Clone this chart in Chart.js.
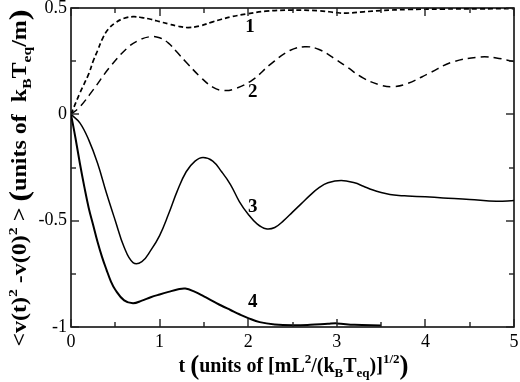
<!DOCTYPE html>
<html>
<head>
<meta charset="utf-8">
<script src="https://cdn.jsdelivr.net/npm/chart.js"></script>
<style>
  body { margin: 0; background: #fff; }
</style>
</head>
<body>
<canvas id="vChart" width="520" height="382"></canvas>

<script>

// time values and curve values
const t1 = [0, 0.1, 0.2, 0.25, 0.3, 0.36, 0.42, 0.5, 0.6, 0.7, 0.8, 0.9, 1.0, 1.1, 1.2, 1.32, 1.45, 1.6, 1.7, 1.8, 1.98, 2.2, 2.47, 2.8, 3.0, 3.11, 3.3, 3.5, 3.8, 4.2, 4.6, 5.0];
const v1 = [0, 0.10, 0.19, 0.25, 0.30, 0.36, 0.40, 0.43, 0.452, 0.459, 0.455, 0.447, 0.436, 0.425, 0.415, 0.408, 0.415, 0.435, 0.447, 0.458, 0.472, 0.485, 0.49, 0.487, 0.478, 0.476, 0.482, 0.488, 0.493, 0.495, 0.496, 0.497];

const t2 = [0, 0.1, 0.25, 0.44, 0.63, 0.75, 0.89, 1.0, 1.1, 1.19, 1.3, 1.46, 1.6, 1.72, 1.85, 2.05, 2.25, 2.47, 2.64, 2.8, 3.0, 3.11, 3.3, 3.5, 3.64, 3.8, 4.05, 4.3, 4.62, 4.8, 5.0];
const v2 = [0, 0.035, 0.115, 0.223, 0.31, 0.345, 0.365, 0.36, 0.335, 0.295, 0.245, 0.176, 0.128, 0.112, 0.12, 0.162, 0.235, 0.30, 0.318, 0.305, 0.255, 0.224, 0.17, 0.137, 0.13, 0.145, 0.195, 0.245, 0.27, 0.265, 0.248];

const t3 = [0, 0.1, 0.2, 0.3, 0.4, 0.5, 0.6, 0.7, 0.8, 0.9, 1.0, 1.1, 1.2, 1.3, 1.4, 1.49, 1.6, 1.7, 1.8, 1.9, 2.0, 2.1, 2.2, 2.3, 2.4, 2.5, 2.6, 2.7, 2.8, 2.9, 3.05, 3.2, 3.3, 3.4, 3.5, 3.6, 3.7, 3.8, 4.0, 4.2, 4.5, 4.8, 5.0];
const v3 = [0, -0.04, -0.12, -0.23, -0.37, -0.50, -0.625, -0.697, -0.693, -0.64, -0.57, -0.47, -0.36, -0.27, -0.22, -0.203, -0.22, -0.27, -0.33, -0.41, -0.47, -0.515, -0.538, -0.532, -0.50, -0.46, -0.42, -0.38, -0.345, -0.322, -0.311, -0.322, -0.338, -0.355, -0.368, -0.377, -0.382, -0.384, -0.388, -0.393, -0.40, -0.409, -0.405];

const t4 = [0, 0.05, 0.1, 0.15, 0.2, 0.25, 0.3, 0.35, 0.4, 0.45, 0.5, 0.6, 0.7, 0.8, 0.9, 1.0, 1.1, 1.2, 1.29, 1.4, 1.5, 1.6, 1.7, 1.8, 1.9, 2.0, 2.13, 2.3, 2.5, 2.7, 2.9, 3.0, 3.2, 3.5];
const v4 = [0, -0.11, -0.23, -0.34, -0.44, -0.52, -0.60, -0.67, -0.73, -0.785, -0.825, -0.875, -0.888, -0.876, -0.86, -0.847, -0.835, -0.824, -0.819, -0.835, -0.856, -0.878, -0.90, -0.92, -0.94, -0.958, -0.977, -0.988, -0.992, -0.99, -0.985, -0.983, -0.99, -0.993];

const xTicks = [0, 1, 2, 3, 4, 5];
const yTicks = [-1, -0.5, 0, 0.5];

// curve numbers and where they sit (data coordinates)
const curveNames = ['1', '2', '3', '4'];
const nameX = [2.02, 2.05, 2.05, 2.05];
const nameY = [0.41, 0.105, -0.435, -0.885];

const SERIF = '"Liberation Serif", "Times New Roman", serif';

function pts(xs, ys) {
  return xs.map((x, i) => ({ x: x, y: ys[i] }));
}

function line(xs, ys, dash, width) {
  return {
    data: pts(xs, ys),
    borderColor: '#000',
    borderWidth: width,
    borderDash: dash,
    pointRadius: 0,
    fill: false,
    tension: 0.4
  };
}

// draws a string made of pieces with sub/superscripts, centred on (0,0)
function drawRich(ctx, segs) {
  let total = 0;
  segs.forEach(s => {
    ctx.font = 'bold ' + s[1] + 'px ' + SERIF;
    s.w = ctx.measureText(s[0]).width;
    total += s.w;
  });
  let x = -total / 2;
  ctx.textAlign = 'left';
  ctx.textBaseline = 'alphabetic';
  segs.forEach(s => {
    ctx.font = 'bold ' + s[1] + 'px ' + SERIF;
    ctx.fillText(s[0], x, s[2]);
    x += s.w;
  });
}

const xTitle = [
  ['t ', 20, 0], ['(', 27, 2], ['units of [mL', 20, 0], ['2', 13, -9], ['/(k', 20, 0],
  ['B', 13, 5], ['T', 20, 0], ['eq', 13, 5], [')]', 20, 0], ['1/2', 13, -9], [')', 27, 2]
];
const yTitle = [
  ['<v(t)', 20, 0], ['2', 13, -9], [' -v(0)', 20, 0], ['2', 13, -9], [' > ', 20, 0],
  ['(', 27, 2], ['units of  k', 20, 0], ['B', 13, 5], ['T', 20, 0], ['eq', 13, 5],
  ['/m', 20, 0], [')', 27, 2]
];

const framePlugin = {
  id: 'frame',
  afterDraw(chart) {
    const ctx = chart.ctx;
    const a = chart.chartArea;
    const xs = chart.scales.x, ys = chart.scales.y;
    ctx.save();
    ctx.setLineDash([]);
    ctx.strokeStyle = '#000';
    ctx.lineWidth = 1.5;
    ctx.strokeRect(a.left, a.top, a.right - a.left, a.bottom - a.top);

    // inward tick marks on all four sides
    ctx.fillStyle = '#222';
    for (let i = 0; i <= 10; i++) {
      const p = Math.round(xs.getPixelForValue(i * 0.5));
      const len = i % 2 === 0 ? 8 : 5;
      ctx.fillRect(p - 0.7, a.bottom - len, 1.4, len);
      ctx.fillRect(p - 0.7, a.top, 1.4, len);
    }
    for (let i = 0; i <= 6; i++) {
      const p = Math.round(ys.getPixelForValue(-1 + i * 0.25));
      const len = i % 2 === 0 ? 8 : 5;
      ctx.fillRect(a.left, p - 0.7, len, 1.4);
      ctx.fillRect(a.right - len, p - 0.7, len, 1.4);
    }
    ctx.fillStyle = '#000';

    // curve numbers
    ctx.font = 'bold 19px ' + SERIF;
    ctx.textAlign = 'center';
    ctx.textBaseline = 'middle';
    curveNames.forEach((n, i) => {
      ctx.fillText(n, xs.getPixelForValue(nameX[i]), ys.getPixelForValue(nameY[i]));
    });

    // axis titles
    ctx.save();
    ctx.translate((a.left + a.right) / 2 + 1, 372);
    drawRich(ctx, xTitle);
    ctx.restore();

    ctx.save();
    ctx.translate(26, 178);
    ctx.rotate(-Math.PI / 2);
    ctx.scale(1.2, 1);
    drawRich(ctx, yTitle);
    ctx.restore();

    ctx.restore();
  }
};

new Chart(document.getElementById('vChart'), {
  type: 'line',
  data: {
    datasets: [
      line(t1, v1, [5, 3], 1.7),
      line(t2, v2, [8, 5], 1.5),
      line(t3, v3, [], 1.5),
      line(t4, v4, [], 2)
    ]
  },
  options: {
    responsive: false,
    animation: false,
    layout: { padding: { top: 8, right: 6, left: 0, bottom: 0 } },
    plugins: { legend: { display: false }, tooltip: { enabled: false } },
    scales: {
      x: {
        type: 'linear',
        min: 0, max: 5,
        grid: { display: false, drawTicks: false },
        border: { display: false },
        afterBuildTicks: s => { s.ticks = xTicks.map(v => ({ value: v })); },
        ticks: {
          color: '#000',
          padding: 4,
          font: { family: SERIF, size: 18 },
          callback: v => String(v)
        },
        afterFit: s => { s.height = 55; s.paddingLeft = 0; s.paddingRight = 0; }
      },
      y: {
        min: -1, max: 0.5,
        grid: { display: false, drawTicks: false },
        border: { display: false },
        afterBuildTicks: s => { s.ticks = yTicks.map(v => ({ value: v })); },
        ticks: {
          color: '#000',
          padding: 4,
          font: { family: SERIF, size: 18 },
          callback: v => String(v)
        },
        afterFit: s => { s.width = 71; s.paddingTop = 0; s.paddingBottom = 0; }
      }
    }
  },
  plugins: [framePlugin]
});

</script>
</body>
</html>
